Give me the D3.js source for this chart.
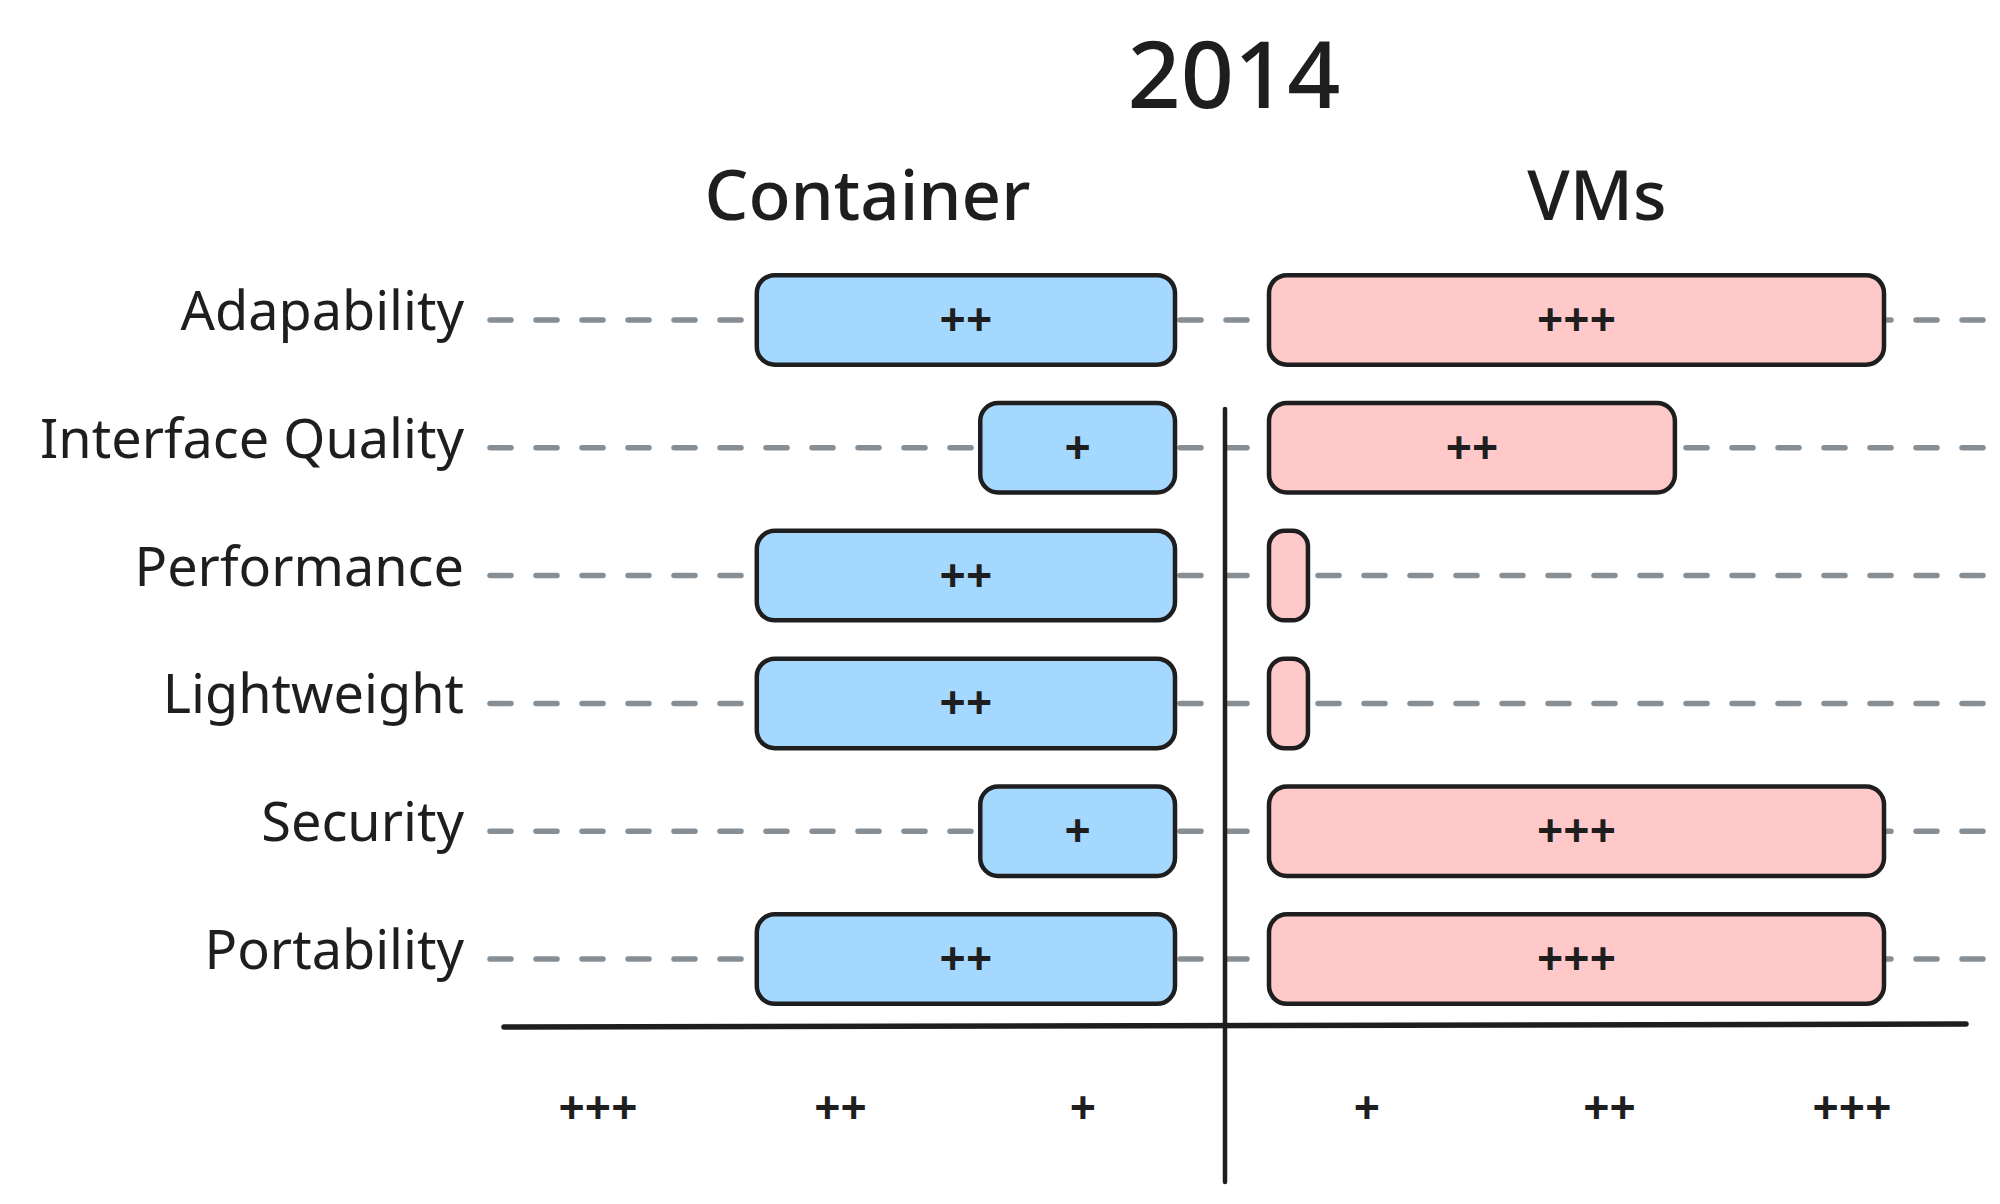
<!DOCTYPE html>
<html>
<head>
<meta charset="utf-8">
<script src="https://cdn.jsdelivr.net/npm/d3@7"></script>
<style>
  body { margin: 0; background: #ffffff; }
  text { font-family: "Noto Sans", sans-serif; fill: #1e1e1e; }
</style>
</head>
<body>
<div id="chart"></div>
<script>
// chart data
const chartTitle = "2014";
const sideNames = ["Container", "VMs"];
const features = ["Adapability", "Interface Quality", "Performance", "Lightweight", "Security", "Portability"];
const containerScores = [2.04, 0.95, 2.04, 2.04, 0.95, 2.04];
const vmScores = [3, 1.98, 0.19, 0.19, 3, 3];   // the two slivers are "nothing"
const scoreTicks = ["+", "++", "+++"];

function drawCompareChart() {
    const width = 2000, height = 1204;
    const axisX = 1225;     // the centre divider
    const gapLeft = 50;     // space between divider and container bars
    const gapRight = 44;    // space between divider and VM bars
    const colors = { Container: "#a5d8ff", VMs: "#ffc9c9" };

    const svg = d3.select("#chart")
        .append("svg")
        .attr("width", width)
        .attr("height", height);

    // Scales
    const xLen = d3.scaleLinear()
        .domain([0, 3])
        .range([0, 615]);

    const yScale = d3.scaleBand()
        .domain(features)
        .range([256, 1023])
        .paddingInner(0.3)
        .paddingOuter(0.15);

    const tickScale = d3.scalePoint()
        .domain(scoreTicks)
        .range([142, 627]);

    const rowMid = f => yScale(f) + yScale.bandwidth() / 2;

    // dashed guide lines for each feature (behind the bars)
    svg.selectAll('.guide-line')
        .data(features)
        .enter()
        .append('line')
        .attr('class', 'guide-line')
        .attr('x1', 490)
        .attr('x2', 1985)
        .attr('y1', d => rowMid(d))
        .attr('y2', d => rowMid(d))
        .attr('stroke', '#868e96')
        .attr('stroke-width', 5.5)
        .attr('stroke-linecap', 'round')
        .attr('stroke-dasharray', '21,25');

    // Feature labels
    svg.selectAll('.feature-label')
        .data(features)
        .enter()
        .append('text')
        .attr('class', 'feature-label')
        .attr('x', 464)
        .attr('y', d => rowMid(d) + 10)
        .attr('text-anchor', 'end')
        .style('font-size', '54px')
        .text(d => d);

    // axes
    svg.append('line')
        .attr('x1', axisX).attr('x2', axisX)
        .attr('y1', 409).attr('y2', 1182)
        .attr('stroke', '#1e1e1e')
        .attr('stroke-width', 4.5)
        .attr('stroke-linecap', 'round');

    svg.append('line')
        .attr('x1', 504).attr('x2', 1966)
        .attr('y1', 1027).attr('y2', 1024)
        .attr('stroke', '#1e1e1e')
        .attr('stroke-width', 5.5)
        .attr('stroke-linecap', 'round');

    const sides = [
        { name: "Container", scores: containerScores, dir: -1 },
        { name: "VMs", scores: vmScores, dir: 1 }
    ];

    sides.forEach(side => {
        const rows = features.map((f, i) => ({ feature: f, score: side.scores[i] }));
        const barX = d => side.dir < 0 ? axisX - gapLeft - xLen(d.score) : axisX + gapRight;

        const g = svg.append('g').attr('class', 'side-' + side.name);

        g.selectAll('.bar')
            .data(rows)
            .enter()
            .append('rect')
            .attr('class', 'bar')
            .attr('x', d => barX(d))
            .attr('y', d => yScale(d.feature))
            .attr('width', d => xLen(d.score))
            .attr('height', yScale.bandwidth())
            .attr('rx', d => Math.min(18, xLen(d.score) / 2.5))
            .attr('ry', d => Math.min(18, xLen(d.score) / 2.5))
            .attr('fill', colors[side.name])
            .attr('stroke', '#1e1e1e')
            .attr('stroke-width', 4.5);

        // the plus marks inside the bars
        g.selectAll('.bar-label')
            .data(rows.filter(d => Math.round(d.score) > 0))
            .enter()
            .append('text')
            .attr('class', 'bar-label')
            .attr('x', d => barX(d) + xLen(d.score) / 2)
            .attr('y', d => rowMid(d.feature) + 16)
            .attr('text-anchor', 'middle')
            .style('font-size', '46px')
            .style('font-weight', 700)
            .text(d => "+".repeat(Math.round(d.score)));

        // tick labels under the axis
        g.selectAll('.tick-label')
            .data(scoreTicks)
            .enter()
            .append('text')
            .attr('class', 'tick-label')
            .attr('x', d => axisX + side.dir * tickScale(d))
            .attr('y', 1108 + 16)
            .attr('text-anchor', 'middle')
            .style('font-size', '46px')
            .style('font-weight', 700)
            .text(d => d);

        // side heading
        const barsMid = side.dir < 0 ? axisX - gapLeft - xLen(1.5) : axisX + gapRight + xLen(1.6);
        g.append('text')
            .attr('class', 'side-title')
            .attr('x', barsMid)
            .attr('y', 220)
            .attr('text-anchor', 'middle')
            .style('font-size', '69px')
            .style('font-weight', 500)
            .text(side.name);
    });

    // Title
    svg.append('text')
        .attr('x', 1234)
        .attr('y', 108)
        .attr('text-anchor', 'middle')
        .style('font-size', '93px')
        .style('font-weight', 500)
        .text(chartTitle);
}

drawCompareChart();
</script>
</body>
</html>
